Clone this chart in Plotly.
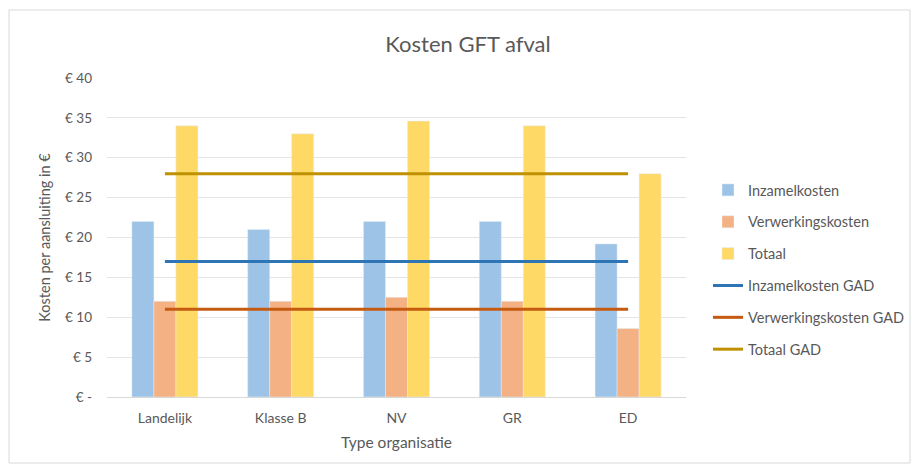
import plotly.graph_objects as go

categories = ["Landelijk", "Klasse B", "NV", "GR", "ED"]
inzamelkosten = [22, 21, 22, 22, 19.2]
verwerkingskosten = [12, 12, 12.5, 12, 8.6]
totaal = [34, 33, 34.6, 34, 28]
inzamel_gad = [17, 17, 17, 17, 17]
verwerking_gad = [11, 11, 11, 11, 11]
totaal_gad = [28, 28, 28, 28, 28]
y_tickvals = [0, 5, 10, 15, 20, 25, 30, 35, 40]
y_ticktext = ["€ -", "€ 5", "€ 10", "€ 15", "€ 20", "€ 25", "€ 30", "€ 35", "€ 40"]

FONT = "Lato, Open Sans, sans-serif"
GRAY = "#595959"

fig = go.Figure()
fig.add_bar(x=categories, y=inzamelkosten, name="Inzamelkosten", marker_color="#9DC3E6", legendgroup="a")
fig.add_bar(x=categories, y=verwerkingskosten, name="Verwerkingskosten", marker_color="#F4B183", legendgroup="b")
fig.add_bar(x=categories, y=totaal, name="Totaal", marker_color="#FFD966", legendgroup="c")
fig.add_scatter(x=categories, y=inzamel_gad, name="Inzamelkosten GAD", mode="lines",
                line=dict(color="#2E75B6", width=3), legendgroup="d")
fig.add_scatter(x=categories, y=verwerking_gad, name="Verwerkingskosten GAD", mode="lines",
                line=dict(color="#C55A11", width=3), legendgroup="e")
fig.add_scatter(x=categories, y=totaal_gad, name="Totaal GAD", mode="lines",
                line=dict(color="#BF9000", width=3), legendgroup="f")

fig.update_layout(
    width=912, height=466,
    margin=dict(l=107, r=226, t=78, b=69),
    paper_bgcolor="white", plot_bgcolor="white",
    font=dict(family=FONT, color=GRAY, size=13),
    title=dict(text="Kosten GFT afval", x=468 / 912, xanchor="center",
               y=1 - 44 / 466, yanchor="middle",
               font=dict(size=22, color=GRAY, family=FONT)),
    barmode="group", bargap=0.43, bargroupgap=0,
    showlegend=True,
    legend=dict(xref="container", yref="container", x=708 / 912, y=1 - 174 / 466,
                xanchor="left", yanchor="top", tracegroupgap=10,
                font=dict(size=14.5, color=GRAY, family=FONT), itemwidth=30,
                bgcolor="rgba(0,0,0,0)"),
    shapes=[dict(type="rect", xref="paper", yref="paper", x0=-98 / 579, x1=(910 - 107) / 579,
                 y0=-(466 - 397 - 3) / 319, y1=(397 - 10) / 319,
                 line=dict(color="#d9d9d9", width=1), layer="below")],
)
fig.update_yaxes(range=[0, 40], tickvals=y_tickvals, ticktext=y_ticktext,
                 showgrid=True, gridcolor="#e4e4e4", gridwidth=1, zeroline=False,
                 showline=False, ticklabelstandoff=14,
                 tickfont=dict(size=13.5, color=GRAY),
                 title=dict(text="Kosten per aansluiting in €", standoff=10,
                            font=dict(size=14.5, color=GRAY)))
fig.update_xaxes(showline=True, linecolor="#d9d9d9", linewidth=1, showgrid=False,
                 tickfont=dict(size=14, color=GRAY), ticklabelstandoff=8,
                 title=dict(text="Type organisatie", standoff=12,
                            font=dict(size=15.5, color=GRAY)))

fig.write_html("out.html", config={"displayModeBar": False},
               post_script="document.body.style.margin='0';")
